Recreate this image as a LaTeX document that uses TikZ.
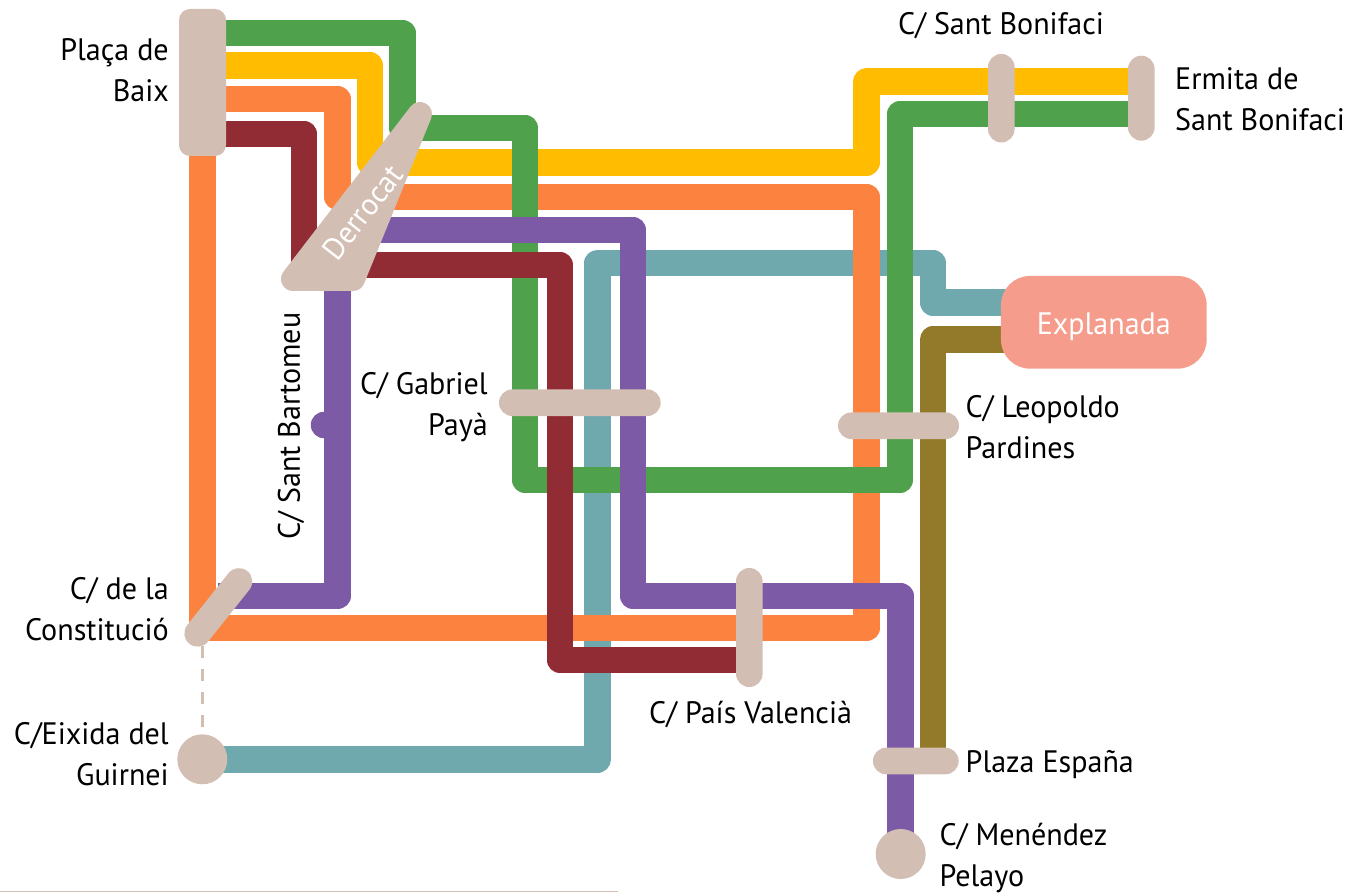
\documentclass[tikz,border=0pt]{standalone}
\usepackage{fontspec}
\setmainfont[FakeStretch=0.97]{PT Sans}
\definecolor{lgreen}{HTML}{50A14C}
\definecolor{lyellow}{HTML}{FFBC00}
\definecolor{lorange}{HTML}{FC8240}
\definecolor{lmaroon}{HTML}{922C34}
\definecolor{lpurple}{HTML}{7C5AA6}
\definecolor{lteal}{HTML}{6FA9AD}
\definecolor{lolive}{HTML}{927A2A}
\definecolor{tan}{HTML}{D3BEB3}
\definecolor{salmon}{HTML}{F59C8C}
\pgfdeclarelayer{lines}
\pgfsetlayers{lines,main}
\tikzset{
  route/.style={draw=#1,line width=26.5pt,line join=round},
  pill/.style={fill=tan,inner sep=0pt,rounded corners=13.3pt},
  stop/.style={circle,fill=tan,inner sep=0pt,minimum size=50pt},
  lab/.style={inner sep=0pt,font=\fontsize{31}{40.5}\selectfont,text=black},
  labr/.style={lab,align=right,anchor=east},
  labl/.style={lab,align=left,anchor=west},
}
\begin{document}
\begin{tikzpicture}[x=1pt,y=-1pt]
\useasboundingbox (0,0) rectangle (1366,893);
% stations
\node[pill,rounded corners=11pt,minimum width=47pt,minimum height=147pt] (baix) at (202.5,82.5) {};
\node[pill,minimum width=26.6pt,minimum height=88.5pt] (bonifaci) at (1001.3,98.2) {};
\node[pill,minimum width=26.6pt,minimum height=85pt] (ermita) at (1141.3,98.2) {};
\node[pill,minimum width=161.7pt,minimum height=26.6pt] (gabriel) at (579.8,402.7) {};
\node[pill,minimum width=121pt,minimum height=26.6pt] (leopoldo) at (898.5,425.7) {};
\node[pill,minimum width=26.6pt,minimum height=119pt] (valencia) at (749.3,627.5) {};
\node[pill,minimum width=85.7pt,minimum height=26.6pt] (espana) at (915.8,761) {};
\node[pill,minimum width=93pt,minimum height=26.6pt,rotate=51.5] (constitucio) at (218.3,607.4) {};
\node[stop] (eixida) at (202.3,759.3) {};
\node[stop] (menendez) at (900.7,854) {};
\node[fill=salmon,inner sep=0pt,rounded corners=29pt,minimum width=205.7pt,minimum height=92.7pt,
  text=white,font=\fontsize{31}{36}\selectfont] (explanada) at (1103.8,322.3) {\raisebox{-12.7pt}[0pt][0pt]{Explanada}};
\node[circle,fill=lpurple,inner sep=0pt,minimum size=26.5pt] (bartomeu) at (324,425) {};
% derrocat
\coordinate (d1) at (420,114);
\coordinate (d2) at (293,279);
\coordinate (d3) at (353,279);
\fill[tan,draw=tan,line width=24pt,line join=round] (d1) -- (d2) -- (d3) -- cycle;
\node[rotate=52,inner sep=0pt,text=white,font=\fontsize{31}{36}\selectfont] (derrocat) at (362.5,212) {Derrocat};
% routes
\begin{pgfonlayer}{lines}
\draw[route=lteal] (eixida.center) -- (597.5,759.3) -- (597.5,263) -- (933,263) -- (933,302.5) -- (explanada.center |- 0,302.5);
\draw[route=lyellow] (baix.center |- 0,65.5) -- (370,65.5) -- (370,162.5) -- (866.5,162.5) -- (866.5,81.7) -- (ermita.center |- 0,81.7);
\draw[route=lorange] (baix.center |- 0,99) -- (337.5,99) -- (337.5,197) -- (866.5,197) -- (866.5,628) -- (202.5,628) -- (baix.center);
\draw[route=lgreen] (baix.center |- 0,33) -- (402.5,33) -- (402.5,128) -- (525,128) -- (525,480) -- (900,480) -- (900,114) -- (ermita.center |- 0,114);
\draw[route=lolive] (espana.center -| 933,0) -- (933,339.5) -- (explanada.center |- 0,339.5);
\draw[route=lmaroon] (baix.center |- 0,134) -- (304,134) -- (304,265) -- (560,265) -- (560,660) -- (valencia.center |- 0,660);
\draw[route=lpurple] (constitucio.center |- 0,596) -- (337.5,596) -- (337.5,230) -- (633,230) -- (633,596) -- (900.5,596) -- (900.5,854) -- (menendez.center);
\draw[tan,line width=3pt,dash pattern=on 12pt off 11pt] (eixida.center |- 0,646) -- (eixida.north);
\end{pgfonlayer}
\draw[tan,line width=1.6pt] (0,891.5) -- (618,891.5);
% labels
\node[labr] (lbaix) at (169,70) {Plaça de\\Baix};
\node[labr] (lconst) at (169,609) {C/ de la\\Constitució};
\node[labr] (leix) at (169,754) {C/Eixida del\\Guirnei};
\node[labr] (lgab) at (488,407) {C/ Gabriel\\Payà};
\node[labl] (lleo) at (965.5,427) {C/ Leopoldo\\Pardines};
\node[labl] (lesp) at (965.5,765) {Plaza España};
\node[labl] (lmen) at (939.5,858) {C/ Menéndez\\Pelayo};
\node[labl] (lval) at (649,715) {C/ País Valencià};
\node[labl] (lbon) at (898,26) {C/ Sant Bonifaci};
\node[labl] (lerm) at (1175,99) {Ermita de\\Sant Bonifaci};
\node[lab,rotate=90,anchor=center] (lbar) at (291,426) {C/ Sant Bartomeu};
\end{tikzpicture}
\end{document}
